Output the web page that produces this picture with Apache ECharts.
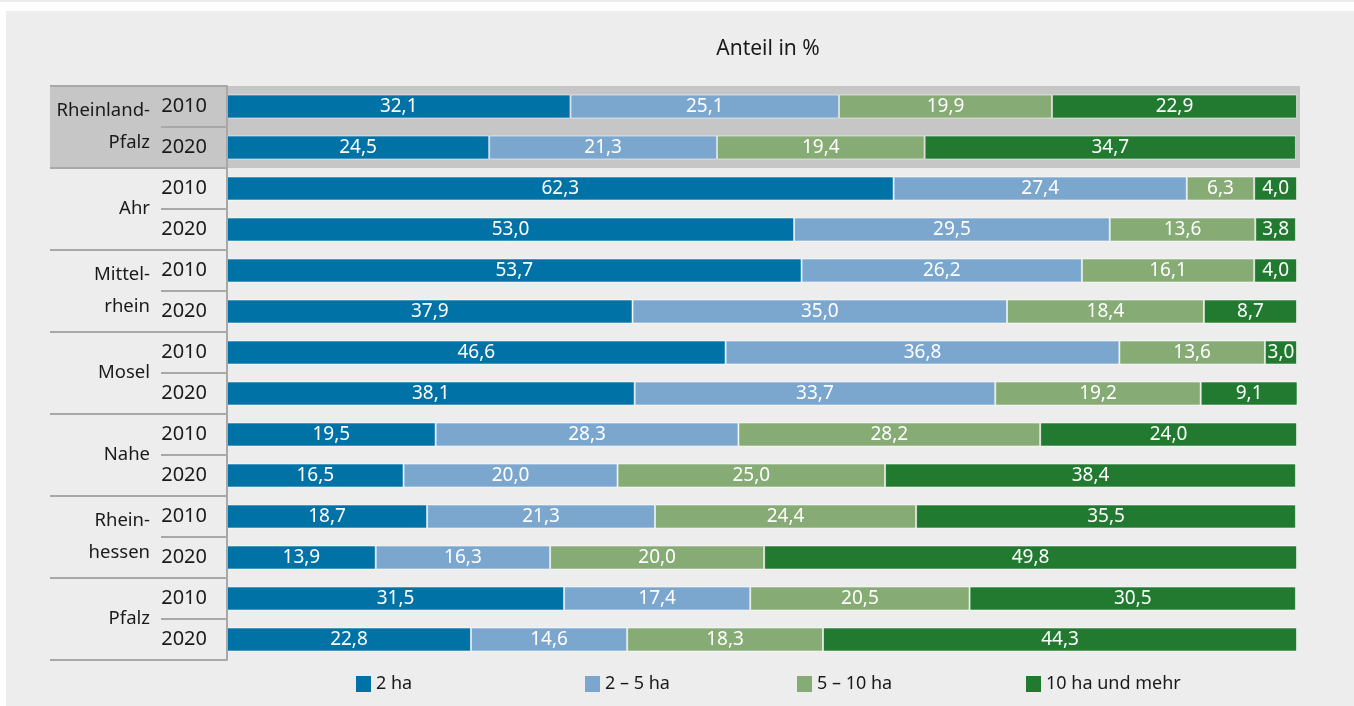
<!DOCTYPE html>
<html>
<head>
<meta charset="utf-8">
<script src="https://cdn.jsdelivr.net/npm/echarts@6/dist/echarts.min.js"></script>
<style>
  html, body { margin: 0; padding: 0; background: #ffffff; width: 1354px; height: 706px; overflow: hidden; }
  #strip { position: absolute; left: 0; top: 0; width: 1354px; height: 2px; background: #ececec; }
  #panel { position: absolute; left: 6px; top: 11px; right: 0; bottom: 0; background: #ededed; }
  #chart { position: absolute; left: 0; top: 0; width: 1354px; height: 706px; }
</style>
</head>
<body>
<div id="strip"></div>
<div id="panel"></div>
<div id="chart"></div>
<script>
// ---- data ----
const regions = ['Rheinland-\nPfalz', 'Ahr', 'Mittel-\nrhein', 'Mosel', 'Nahe', 'Rhein-\nhessen', 'Pfalz'];
const years = ['2010', '2020'];
const seriesNames = ['2 ha', '2 – 5 ha', '5 – 10 ha', '10 ha und mehr'];
const share2 = [32.1, 24.5, 62.3, 53.0, 53.7, 37.9, 46.6, 38.1, 19.5, 16.5, 18.7, 13.9, 31.5, 22.8];
const share2to5 = [25.1, 21.3, 27.4, 29.5, 26.2, 35.0, 36.8, 33.7, 28.3, 20.0, 21.3, 16.3, 17.4, 14.6];
const share5to10 = [19.9, 19.4, 6.3, 13.6, 16.1, 18.4, 13.6, 19.2, 28.2, 25.0, 24.4, 20.0, 20.5, 18.3];
const share10plus = [22.9, 34.7, 4.0, 3.8, 4.0, 8.7, 3.0, 9.1, 24.0, 38.4, 35.5, 49.8, 30.5, 44.3];
const xTitle = 'Anteil in %';

// ---- build ----
const rowKeys = [];
regions.forEach(function (r) { years.forEach(function (y) { rowKeys.push(r + '|' + y); }); });
const colors = ['#0072a6', '#7ba7cf', '#86ab74', '#227a30'];
const allData = [share2, share2to5, share5to10, share10plus];
const FONT = '"Noto Sans", "Open Sans", sans-serif';

const chart = echarts.init(document.getElementById('chart'), null, { renderer: 'canvas' });

const series = seriesNames.map(function (name, i) {
  return {
    name: name,
    type: 'bar',
    stack: 'total',
    barWidth: 24,
    yAxisIndex: 0,
    z: 3,
    itemStyle: { color: colors[i], borderColor: 'rgba(255,255,255,0.55)', borderWidth: 1 },
    label: {
      show: true,
      position: 'inside',
      color: '#ffffff',
      fontFamily: FONT,
      fontSize: 19,
      formatter: function (p) { return p.value.toFixed(1).replace('.', ','); }
    },
    emphasis: { disabled: true },
    data: allData[i]
  };
});

const legendLefts = [356, 585, 797, 1026];
const legends = seriesNames.map(function (name, i) {
  return {
    data: [name],
    left: legendLefts[i],
    top: 675,
    padding: 0,
    itemWidth: 15,
    itemHeight: 16,
    itemGap: 0,
    selectedMode: false,
    icon: 'path://M0,0 L15,0 L15,16 L0,16 Z',
    itemStyle: { borderWidth: 0 },
    textStyle: { fontFamily: FONT, fontSize: 18, color: '#1a1a1a', padding: [0, 0, 0, 0] }
  };
});

const option = {
  animation: false,
  backgroundColor: 'transparent',
  title: {
    text: xTitle,
    left: 763,
    top: 34,
    textAlign: 'center',
    textStyle: { fontFamily: FONT, fontSize: 21, fontWeight: 'normal', color: '#1a1a1a' }
  },
  legend: legends,
  grid: { left: 227, right: 57, top: 86, bottom: 46, containLabel: false },
  xAxis: {
    type: 'value', min: 0, max: 100, show: false
  },
  yAxis: [
    {
      type: 'category',
      inverse: true,
      data: rowKeys,
      axisLine: { show: true, lineStyle: { color: '#a8a8a8', width: 2 } },
      axisTick: { show: true, length: 66, lineStyle: { color: '#a8a8a8', width: 2 } },
      axisLabel: {
        interval: 0,
        margin: 20,
        fontFamily: FONT,
        fontSize: 20,
        color: '#1a1a1a',
        formatter: function (v) { return v.split('|')[1]; }
      },
      z: 4
    },
    {
      type: 'category',
      inverse: true,
      position: 'left',
      data: regions,
      axisLine: { show: false },
      axisTick: { show: true, length: 177, lineStyle: { color: '#a8a8a8', width: 2 } },
      axisLabel: {
        interval: 0,
        margin: 77,
        fontFamily: FONT,
        fontSize: 18.5,
        lineHeight: 32,
        color: '#1a1a1a',
        align: 'right'
      },
      z: 4
    }
  ],
  series: series
};

chart.setOption(option);

// Shaded box behind the first region (Rheinland-Pfalz), positioned through the category scale
const c0 = chart.convertToPixel({ yAxisIndex: 0 }, rowKeys[0]);
const c1 = chart.convertToPixel({ yAxisIndex: 0 }, rowKeys[1]);
const band = c1 - c0;
const topY = c0 - band / 2;
const botY = c1 + band / 2;
const x100 = chart.convertToPixel({ xAxisIndex: 0 }, 100);
chart.setOption({
  graphic: [{
    type: 'rect',
    z: -10,
    silent: true,
    shape: { x: 50, y: topY, width: x100 + 3 - 50, height: botY - topY },
    style: { fill: '#c6c6c6' }
  }]
});
</script>
</body>
</html>
